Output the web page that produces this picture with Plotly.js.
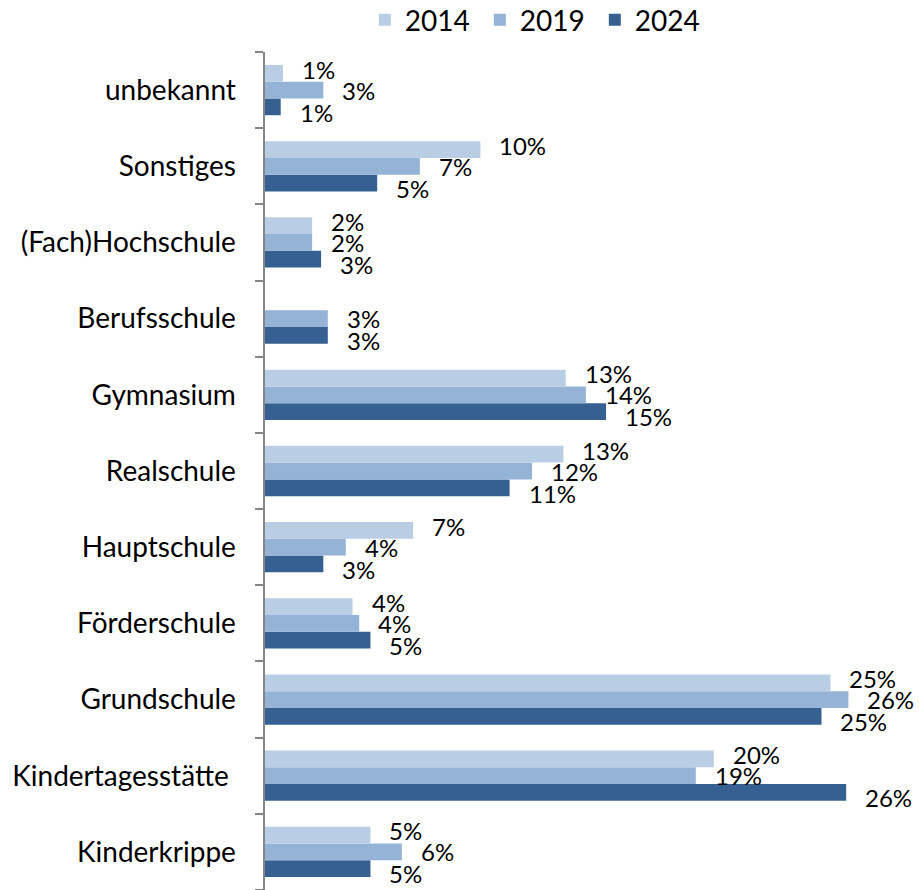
<!DOCTYPE html>
<html>
<head>
<meta charset="utf-8">
<script src="https://cdn.plot.ly/plotly-3.0.1.min.js"></script>
<style>html,body{margin:0;padding:0;background:#fff;}#chart{width:919px;height:890px;}</style>
</head>
<body>
<div id="chart"></div>
<script>
const categories = ["Kinderkrippe", "Kindertagesstätte ", "Grundschule", "Förderschule", "Hauptschule", "Realschule", "Gymnasium", "Berufsschule", "(Fach)Hochschule", "Sonstiges", "unbekannt"];
const years = ["2014", "2019", "2024"];
const v2014 = [4.7, 20.0, 25.2, 3.9, 6.6, 13.3, 13.4, 0, 2.1, 9.6, 0.8];
const v2019 = [6.1, 19.2, 26.0, 4.2, 3.6, 11.9, 14.3, 2.8, 2.1, 6.9, 2.6];
const v2024 = [4.7, 25.9, 24.8, 4.7, 2.6, 10.9, 15.2, 2.8, 2.5, 5.0, 0.7];
const colors = ["#B9CDE5", "#95B3D7", "#376092"];

const fontFam = "Lato, 'Open Sans', sans-serif";
const series = [v2014, v2019, v2024];
const traces = series.map((vals, i) => ({
  type: "bar",
  orientation: "h",
  name: years[i],
  y: categories,
  x: vals,
  marker: {color: colors[i], line: {width: 0}},
  hoverinfo: "x+y"
})).reverse();

// value labels, placed at each bar's end through the axes, stepped like the original
const labelShift = [21, 0, -22];
const annotations = [];
series.forEach((vals, i) => {
  vals.forEach((v, j) => {
    if (v > 0) {
      annotations.push({
        x: v, y: categories[j], xref: "x", yref: "y",
        text: Math.round(v) + "%", showarrow: false,
        xanchor: "left", yanchor: "middle", xshift: 17, yshift: labelShift[i],
        font: {family: fontFam, size: 24, color: "#000"}
      });
    }
  });
});

const layout = {
  width: 919, height: 890,
  margin: {l: 265, r: 10, t: 52, b: 0, autoexpand: false},
  paper_bgcolor: "#fff", plot_bgcolor: "#fff",
  font: {family: fontFam, size: 26, color: "#000"},
  barmode: "group",
  bargap: 0.34,
  bargroupgap: 0,
  showlegend: true,
  legend: {orientation: "h", x: 0.155, xanchor: "left", y: 1.068, yanchor: "top", yref: "paper",
           font: {family: fontFam, size: 28}, traceorder: "reversed",
           entrywidth: 70, entrywidthmode: "pixels", itemwidth: 30},
  annotations: annotations,
  xaxis: {range: [0, 28.7], visible: false, showgrid: false, zeroline: false},
  yaxis: {
    type: "category",
    categoryorder: "array", categoryarray: categories,
    autorange: false,
    range: [-0.5, categories.length - 0.5],
    showline: true, linecolor: "#868686", linewidth: 2,
    ticks: "outside", ticklen: 8, tickcolor: "#868686", tickwidth: 2,
    tickson: "boundaries",
    showgrid: false, zeroline: false,
    ticksuffix: "\u00A0\u00A0\u00A0",
    tickfont: {family: fontFam, size: 28, color: "#000"}
  }
};

Plotly.newPlot("chart", traces, layout, {displayModeBar: false, staticPlot: true});
</script>
</body>
</html>
